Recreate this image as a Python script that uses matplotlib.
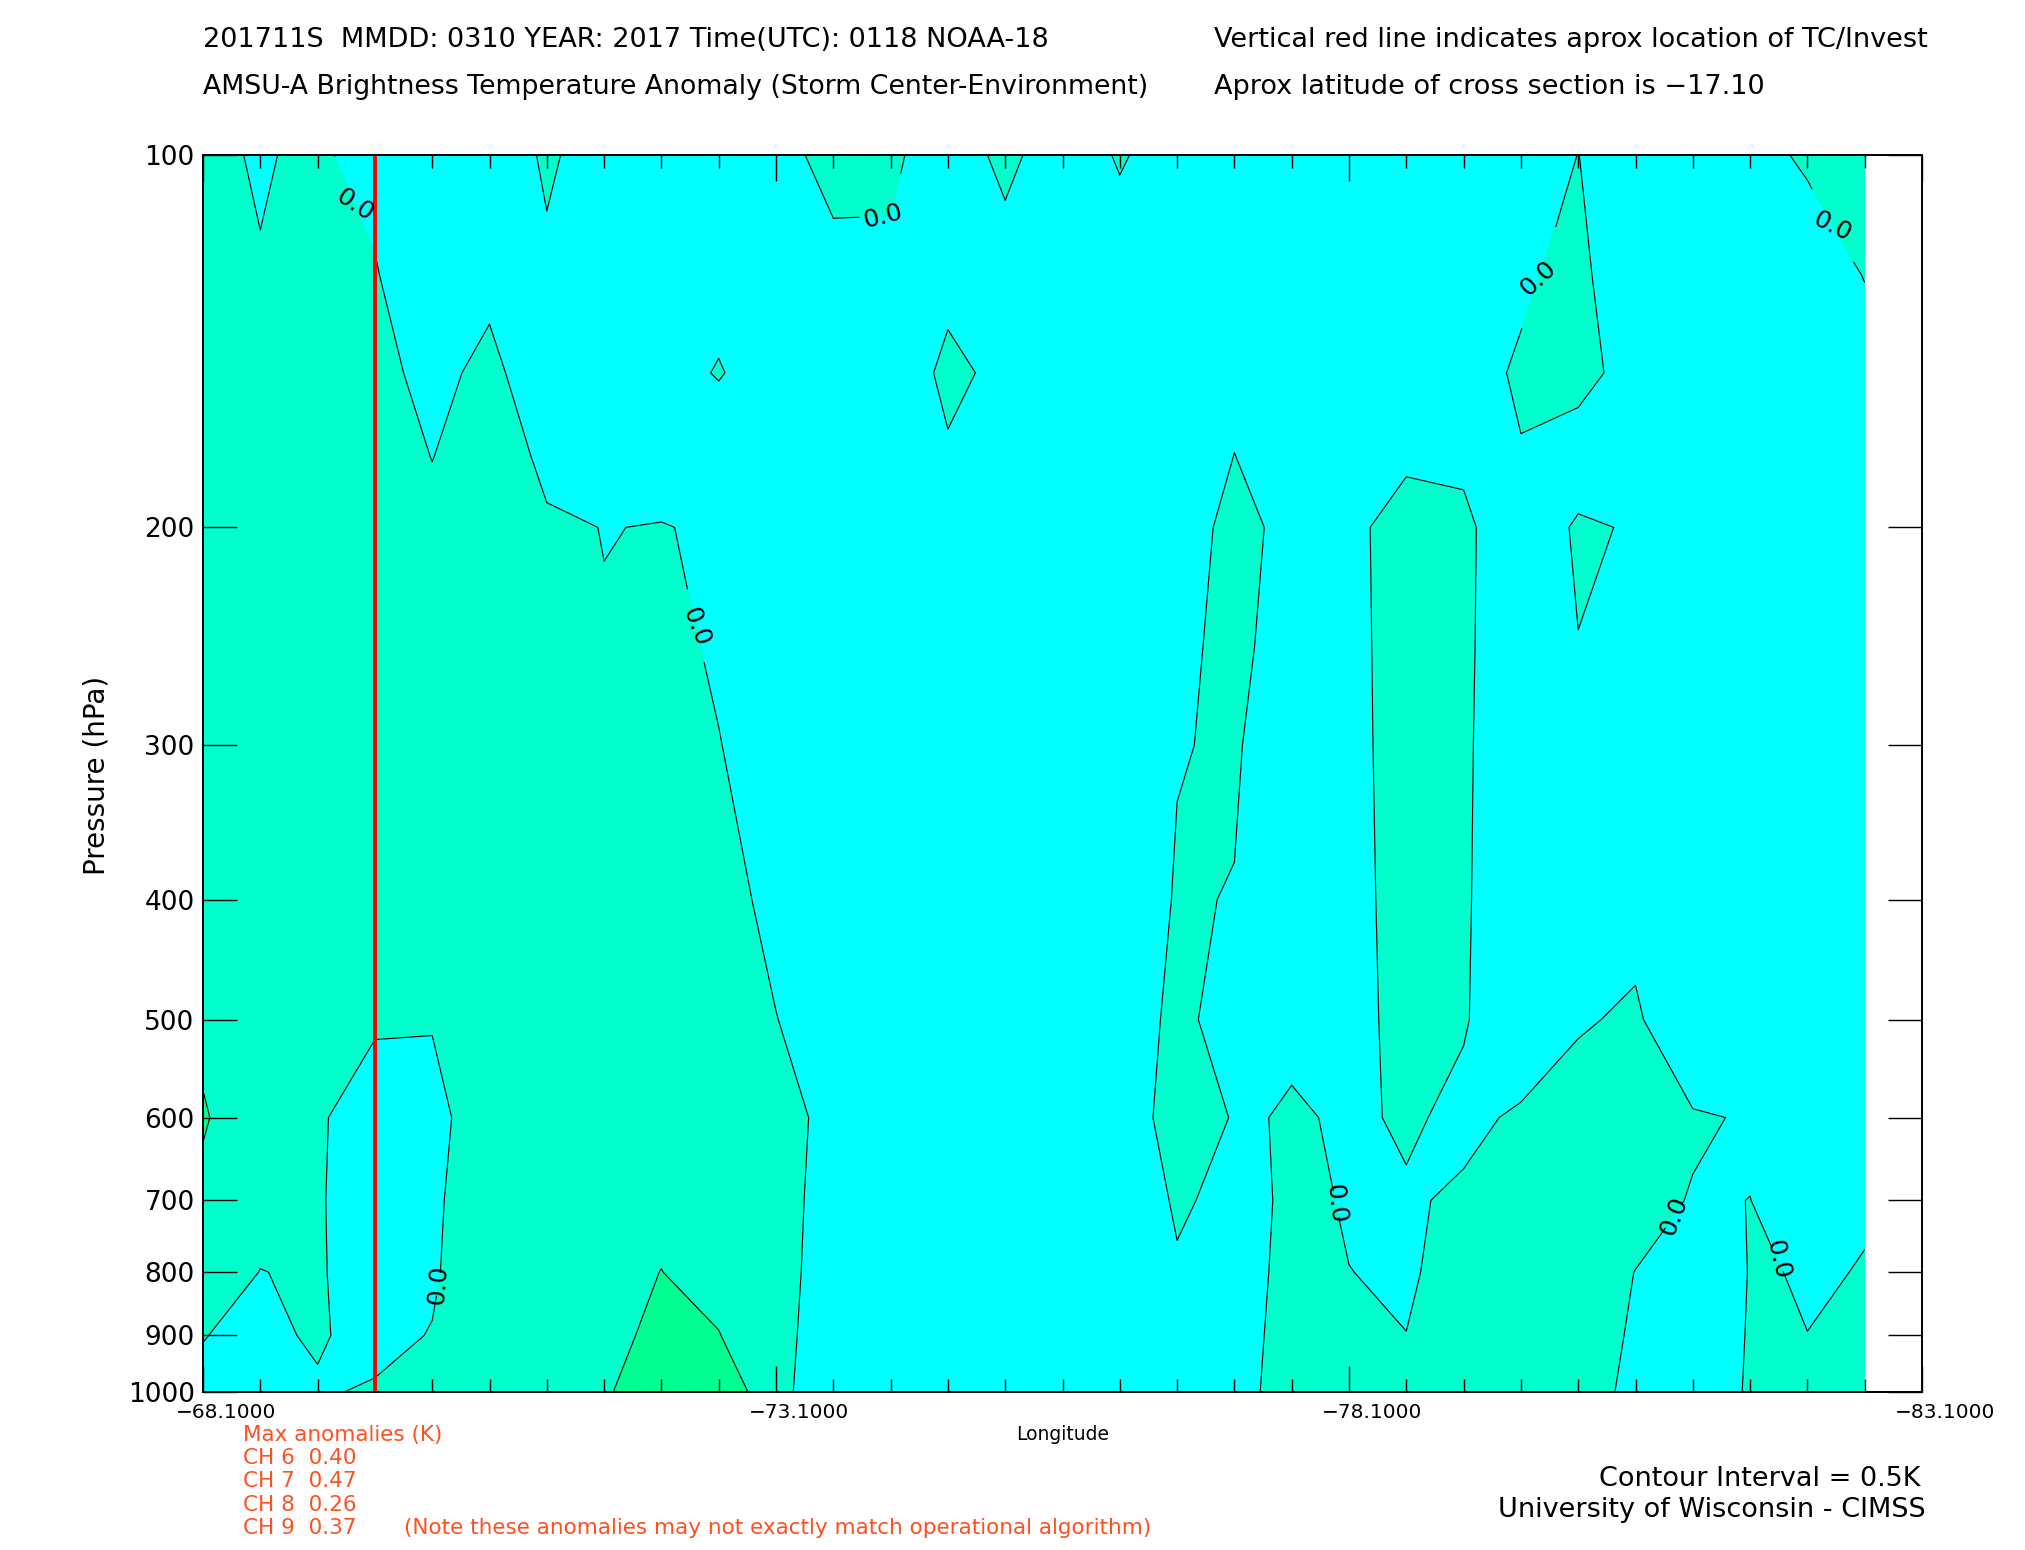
import numpy as np
import matplotlib
matplotlib.use("Agg")
import matplotlib.pyplot as plt
import matplotlib.ticker as mticker

# cross section grid: longitude columns (0.5 deg apart) and pressure levels (hPa)
lons = [-68.1, -68.6, -69.1, -69.6, -70.1, -70.6, -71.1, -71.6, -72.1, -72.6,
        -73.1, -73.6, -74.1, -74.6, -75.1, -75.6, -76.1, -76.6, -77.1, -77.6,
        -78.1, -78.6, -79.1, -79.6, -80.1, -80.6, -81.1, -81.6, -82.1, -82.6]
pres = [100, 125, 150, 175, 200, 250, 300, 400, 500, 600, 700, 800, 900, 1000]

# brightness temperature anomaly (K), one row per pressure level
t100 = [0.036, -0.0147, 0.034, -0.08, -0.15, -0.091, 0.02, -0.063, -0.1, -0.1,
        -0.031, 0.03, 0.02, -0.06, 0.027, -0.06, 0.01, -0.049, -0.1, -0.1,
        -0.1, -0.1, -0.1, -0.1, 0.002, -0.1, -0.1, -0.045, 0.02, 0.05]
t125 = [0.06, 0.0098, 0.06, 0.02, -0.23, -0.0256, -0.0255, -0.08, -0.08, -0.0525,
        -0.1, -0.03, -0.0217, -0.0347, -0.0497, -0.1, -0.0558, -0.1, -0.06, -0.1,
        -0.1, -0.1, -0.1, -0.0246, 0.05, -0.158, -0.1, -0.1, -0.084, 0.005]
t150 = [0.1, 0.1, 0.1, 0.03, -0.03, 0.0277, -0.0712, -0.07, -0.0614, 0.01,
        -0.081, -0.1, -0.09, 0.03, -0.0325, -0.2, -0.1, -0.1, -0.024, -0.1,
        -0.1, -0.05, -0.06, 0.02, 0.0533, -0.065, -0.1, -0.1, -0.1, -0.064]
t175 = [0.15, 0.15, 0.15, 0.103, -0.0043, 0.103, -0.04, -0.05, -0.0522, -0.0987,
        -0.1, -0.15, -0.15, -0.0152, -0.1, -0.2, -0.15, -0.07, 0.001, -0.049,
        -0.05, -0.0117, -0.0256, -0.0078, -0.08, -0.1, -0.1, -0.1, -0.1, -0.1]
t200 = [0.2, 0.2, 0.2, 0.15, 0.049, 0.15, 0.0225, -0.00278, 0.00454, -0.0152,
        -0.1, -0.15, -0.2, -0.1, -0.15, -0.2, -0.2, -0.0255, 0.015, -0.0138,
        -0.0176, 0.03, 0.03, -0.105, 0.02, -0.0123, -0.1, -0.15, -0.15, -0.15]
t250 = [0.25, 0.25, 0.25, 0.2, 0.15, 0.2, 0.1, 0.0079, 0.0445, -0.02,
        -0.1, -0.2, -0.25, -0.2, -0.3, -0.3, -0.2, -0.0164, 0.02, -0.037,
        -0.033, 0.05, 0.05, -0.2, -0.0038, -0.1, -0.15, -0.2, -0.2, -0.2]
t300 = [0.3, 0.3, 0.3, 0.25, 0.2, 0.25, 0.2, 0.1, 0.1, 0.005,
        -0.078, -0.2, -0.3, -0.3, -0.3, -0.3, -0.2, -0.01, 0.0233, -0.143,
        -0.036, 0.05, 0.05, -0.244, -0.1, -0.15, -0.2, -0.25, -0.25, -0.25]
t400 = [0.42, 0.35, 0.3, 0.2, 0.15, 0.3, 0.3, 0.2, 0.2, 0.0635,
        -0.046, -0.2, -0.3, -0.3, -0.3, -0.3, -0.18, 0.02, -0.0086, -0.1,
        -0.044, 0.05, 0.05, -0.31, -0.1, -0.0668, -0.2, -0.25, -0.25, -0.25]
t500 = [0.483, 0.4, 0.2, 0.035, 0.0228, 0.3, 0.3, 0.3, 0.3, 0.15,
        0.004, -0.096, -0.3, -0.3, -0.3, -0.3, -0.122, 0.05, -0.085, -0.042,
        -0.054, 0.05, 0.01, -0.09, -0.02, 0.03, -0.184, -0.2, -0.2, -0.2]
t600 = [0.507, 0.449, 0.035, -0.15, -0.129, 0.25, 0.3, 0.3, 0.35, 0.2,
        0.06, -0.0453, -0.3, -0.3, -0.3, -0.3, -0.42, 0.306, -0.034, 0.0227,
        -0.0256, 0.0185, -0.03, 0.0184, 0.091, 0.1, 0.02, -0.015, -0.1, -0.1]
t700 = [0.482, 0.095, 0.025, -0.15, -0.08, 0.3, 0.3, 0.3, 0.388, 0.25,
        0.06, -0.0624, -0.3, -0.3, -0.3, -0.3, -0.123, 0.02, -0.0406, 0.02,
        -0.0063, -0.015, 0.02, 0.15, 0.1, 0.0567, -0.01, 0.0009, -0.05, -0.0027]
t800 = [0.16, -0.005, 0.03, -0.15, -0.05, 0.3, 0.33, 0.35, 0.5059, 0.311,
        0.06, -0.0764, -0.3, -0.3, -0.3, -0.3, -0.2, -0.017, -0.075, 0.05,
        0.00078, -0.0079, 0.0237, 0.2, 0.078, -0.0024, -0.1, 0.005, -0.0036, 0.00133]
t900 = [0.0058, -0.053, 0.03, -0.1, 0.0163, 0.3, 0.35, 0.378, 0.6, 0.5187,
        0.05, -0.085, -0.3, -0.3, -0.3, -0.3, -0.25, -0.1, -0.0758, 0.07,
        0.05, 0.0006, 0.1, 0.25, 0.08, -0.02, -0.1, 0.01, 0.00027, 0.05]
t1000 = [-0.0425, -0.08, -0.03, 0.035, 0.06, 0.3, 0.4, 0.462, 0.7, 0.979,
         0.04, -0.093, -0.3, -0.3, -0.3, -0.3, -0.25, -0.1, -0.0736, 0.09,
         0.1, 0.1, 0.15, 0.25, 0.08, -0.045, -0.1, 0.016, 0.05, 0.08]

storm_lon = -69.6
p_ticks = [100, 200, 300, 400, 500, 600, 700, 800, 900, 1000]
lon_ticks = [-68.1, -73.1, -78.1, -83.1]
lon_labels = ["\u221268.1000", "\u221273.1000", "\u221278.1000", "\u221283.1000"]
max_anom_ch = ["6", "7", "8", "9"]
max_anom_val = ["0.40", "0.47", "0.26", "0.37"]

# where IDL put the "0.0" labels (lon, hPa)
label_pos = [(-69.44, 107.5), (-74.03, 109.5), (-72.41, 240.5), (-70.08, 818),
             (-79.71, 122), (-82.33, 112.8), (-78.05, 704.6), (-80.86, 718),
             (-81.88, 781)]

Z = np.array([t100, t125, t150, t175, t200, t250, t300, t400, t500,
              t600, t700, t800, t900, t1000])

W, H = 2025, 1550
fig = plt.figure(figsize=(W / 100, H / 100), dpi=100)
ax = fig.add_axes([203 / W, 1 - 1392 / H, (1922 - 203) / W, (1392 - 155) / H])

ax.contourf(lons, pres, Z, levels=[-0.5, 0.0, 0.5, 1.0],
            colors=["#00FFFF", "#00FFCC", "#00FF90"])
cs0 = ax.contour(lons, pres, Z, levels=[0.0], colors="black", linewidths=0.8)
ax.contour(lons, pres, Z, levels=[0.5], colors="black", linewidths=0.8)
ax.clabel(cs0, fmt="%.1f", fontsize=18, inline=True, inline_spacing=4,
          manual=label_pos)

ax.axvline(storm_lon, color="red", lw=2.9)

ax.set_yscale("log")
ax.set_ylim(1000, 100)
ax.set_xlim(-68.1, -83.1)
ax.set_yticks(p_ticks)
ax.set_yticklabels([str(p) for p in p_ticks])
ax.yaxis.set_minor_locator(mticker.NullLocator())
ax.tick_params(axis="y", which="major", direction="in", length=24.5, width=1,
               left=True, right=True, labelsize=19, pad=6)

ax.set_xticks(lon_ticks)
ax.set_xticklabels([])
ax.xaxis.set_minor_locator(mticker.FixedLocator(-68.1 - 0.5 * np.arange(31)))
ax.tick_params(axis="x", which="major", direction="in", length=18.7, width=1,
               top=True, bottom=True)
ax.tick_params(axis="x", which="minor", direction="in", length=9.4, width=1,
               top=True, bottom=True)
for lon, lab in zip(lon_ticks, lon_labels):
    ax.annotate(lab, xy=(lon, 0), xycoords=("data", "axes fraction"),
                xytext=(16.5, -15), textcoords="offset points",
                ha="center", va="center", fontsize=14.5)

for s in ax.spines.values():
    s.set_linewidth(1.4)

fig.text(1063 / W, 1 - 1435 / H, "Longitude", ha="center", va="center", fontsize=13.5)
fig.text(96 / W, 1 - 775 / H, "Pressure (hPa)", rotation=90, ha="center",
         va="center", fontsize=20)

# header
fig.text(203 / W, 1 - 40 / H, "201711S  MMDD: 0310 YEAR: 2017 Time(UTC): 0118 NOAA-18",
         va="center", fontsize=19.5)
fig.text(1214 / W, 1 - 40 / H, "Vertical red line indicates aprox location of TC/Invest",
         va="center", fontsize=19.5)
fig.text(203 / W, 1 - 87 / H,
         "AMSU-A Brightness Temperature Anomaly (Storm Center-Environment)",
         va="center", fontsize=19.3)
fig.text(1214 / W, 1 - 87 / H, "Aprox latitude of cross section is \u221217.10",
         va="center", fontsize=19.5)

# max anomalies block
red = "#FF5020"
fig.text(243 / W, 1 - 1435 / H, "Max anomalies (K)", color=red, va="center", fontsize=15.5)
for i, (ch, v) in enumerate(zip(max_anom_ch, max_anom_val)):
    fig.text(243 / W, 1 - (1458 + 23.3 * i) / H, "CH " + ch + "  " + v,
             color=red, va="center", fontsize=15.5)
fig.text(404 / W, 1 - 1528 / H,
         "(Note these anomalies may not exactly match operational algorithm)",
         color=red, va="center", fontsize=15.5)

fig.text(1599 / W, 1 - 1479 / H, "Contour Interval = 0.5K", va="center", fontsize=19.5)
fig.text(1498 / W, 1 - 1510 / H, "University of Wisconsin - CIMSS", va="center", fontsize=19.5)

fig.savefig("out.png", dpi=100)
